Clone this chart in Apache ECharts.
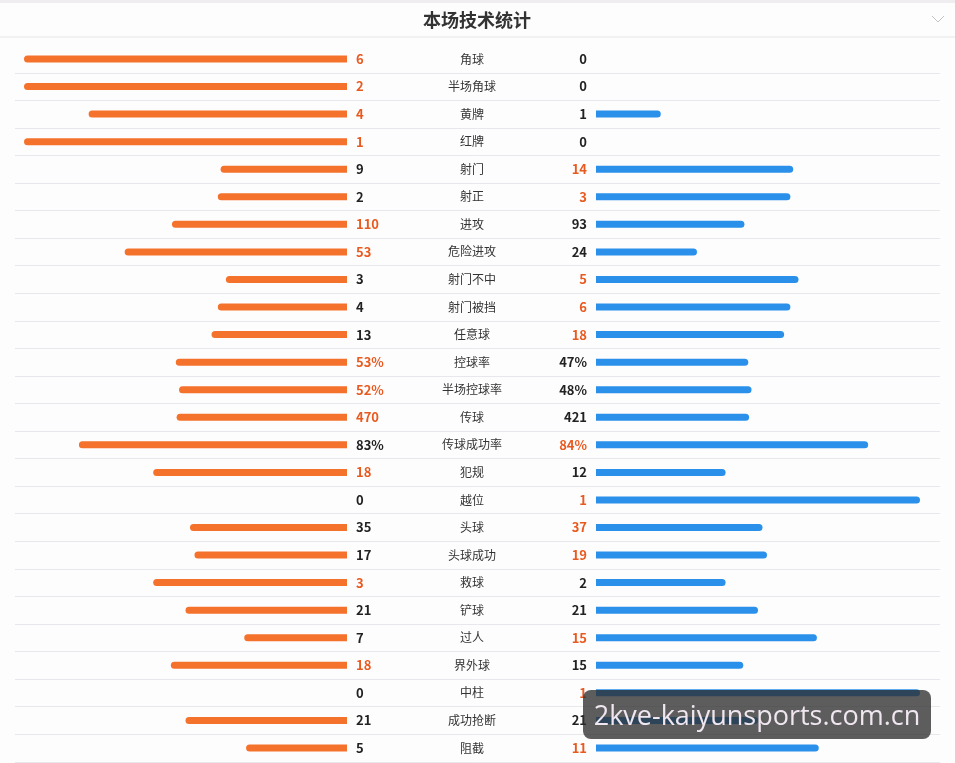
<!DOCTYPE html>
<html><head><meta charset="utf-8">
<script src="https://cdn.jsdelivr.net/npm/echarts@6/dist/echarts.min.js"></script>
<style>html,body{margin:0;padding:0;background:#fefdfe}#c{width:955px;height:763px}</style>
</head><body><div id="c"></div>
<script>
const categories = ['角球','半场角球','黄牌','红牌','射门','射正','进攻','危险进攻','射门不中','射门被挡','任意球','控球率','半场控球率','传球','传球成功率','犯规','越位','头球','头球成功','救球','铲球','过人','界外球','中柱','成功抢断','阻截'];
const homeValues = [6,2,4,1,9,2,110,53,3,4,13,53,52,470,83,18,0,35,17,3,21,7,18,0,21,5];
const awayValues = [0,0,1,0,14,3,93,24,5,6,18,47,48,421,84,12,1,37,19,2,21,15,15,1,21,11];
const units = ['','','','','','','','','','','','%','%','','%','','','','','','','','','','',''];
const title = '本场技术统计';
const watermark = '2kve-kaiyunsports.com.cn';

const ORANGE = '#f4722b', BLUE = '#2b90ea', HI = '#e85a1f', TXT = '#222';
const share = (a, b, i) => units[i] === '%' ? a / 100 : (a + b === 0 ? 0 : a / (a + b));
const homeShare = homeValues.map((v, i) => share(v, awayValues[i], i));
const awayShare = awayValues.map((v, i) => share(v, homeValues[i], i));

const N = categories.length;
const TOP = 45.2, ROWH = 27.56;
const FONT = '"Noto Sans CJK SC", "Noto Sans", sans-serif';

const chart = echarts.init(document.getElementById('c'), null, {renderer: 'canvas'});
const numLabel = (vals, other) => ({
  margin: 9, fontFamily: FONT,
  formatter: (v, i) => {
    const s = vals[i] + units[i];
    return vals[i] > other[i] ? '{hi|' + s + '}' : '{lo|' + s + '}';
  },
  rich: {
    hi: {color: HI, fontWeight: 'bold', fontSize: 13, fontFamily: FONT},
    lo: {color: TXT, fontWeight: 'bold', fontSize: 13, fontFamily: FONT}
  }
});
const hidden = {axisLine: {show: false}, axisTick: {show: false}, splitLine: {show: false}};

chart.setOption({
  backgroundColor: '#fefdfe',
  animation: false,
  grid: [
    {left: 24, width: 323, top: TOP, height: ROWH * N},
    {left: 596, width: 324, top: TOP, height: ROWH * N},
    {left: 15, width: 925, top: TOP + ROWH, height: ROWH * (N - 1)}
  ],
  xAxis: [
    {gridIndex: 0, type: 'value', min: 0, max: 1, inverse: true, show: false},
    {gridIndex: 1, type: 'value', min: 0, max: 1, show: false},
    {gridIndex: 2, type: 'value', min: 0, max: 1, show: false}
  ],
  yAxis: [
    Object.assign({gridIndex: 0, type: 'category', data: categories, inverse: true, position: 'right',
      axisLabel: numLabel(homeValues, awayValues)}, hidden),
    Object.assign({gridIndex: 0, type: 'category', data: categories, inverse: true, position: 'right', offset: 0,
      axisLabel: {margin: 125, align: 'center', color: '#333', fontSize: 12, fontFamily: FONT}}, hidden),
    Object.assign({gridIndex: 1, type: 'category', data: categories, inverse: true, position: 'left',
      axisLabel: numLabel(awayValues, homeValues)}, hidden),
    {gridIndex: 2, type: 'category', data: categories.slice(1), inverse: true,
      axisLine: {show: false}, axisTick: {show: false}, axisLabel: {show: false},
      splitLine: {show: true, lineStyle: {color: '#e8e8ec', width: 1}}}
  ],
  series: [
    {type: 'bar', xAxisIndex: 0, yAxisIndex: 0, data: homeShare, barWidth: 7,
      itemStyle: {color: ORANGE, borderRadius: [3.5, 0, 0, 3.5]}},
    {type: 'bar', xAxisIndex: 1, yAxisIndex: 2, data: awayShare, barWidth: 7,
      itemStyle: {color: BLUE, borderRadius: [0, 3.5, 3.5, 0]}}
  ],
  graphic: [
    {type: 'rect', shape: {x: 0, y: 0, width: 955, height: 3}, style: {fill: '#efedef'}},
    {type: 'rect', shape: {x: 0, y: 36.5, width: 955, height: 1}, style: {fill: '#e6e6e6'}},
    {type: 'text', x: 477, y: 20, style: {text: title, fill: '#333', font: 'bold 18px ' + FONT, align: 'center', verticalAlign: 'middle'}},
    {type: 'polyline', shape: {points: [[932, 16], [938, 22], [944, 16]]}, style: {stroke: '#c4c4c4', lineWidth: 1, fill: null}},
    {type: 'rect', z: 100, zlevel: 1, shape: {x: 583, y: 690, width: 348, height: 49, r: 8}, style: {fill: 'rgba(48,48,48,0.78)'}},
    {type: 'text', z: 101, zlevel: 1, x: 757, y: 717, style: {text: watermark, fill: '#efe6ef', font: '27px "Open Sans", sans-serif', align: 'center', verticalAlign: 'middle'}}
  ]
});
</script></body></html>
